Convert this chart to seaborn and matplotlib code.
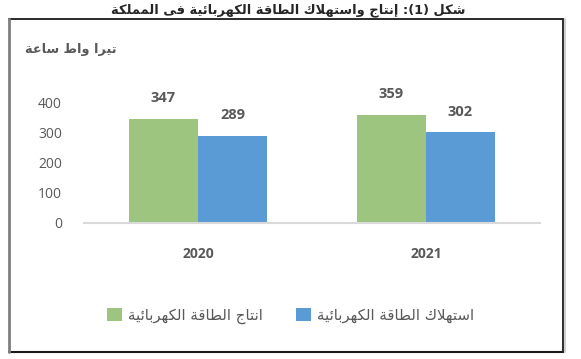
"""
Bar chart: electricity production vs consumption (TWh), 2020-2021.
"""

import matplotlib
matplotlib.use('Agg')
import matplotlib.pyplot as plt
from matplotlib.lines import Line2D
import pandas as pd
import seaborn as sns

# ========================
# DATA
# ========================

YEARS = ['2020', '2021']
PRODUCTION = [347, 359]
CONSUMPTION = [289, 302]
SERIES = ['انتاج الطاقة الكهربائية', 'استهلاك الطاقة الكهربائية']
Y_TICKS = [0, 100, 200, 300, 400]

TITLE = 'شكل (1): إنتاج واستهلاك الطاقة الكهربائية فى المملكة'
Y_TITLE = 'تيرا واط ساعة'

GREEN = '#9DC57F'
BLUE = '#5B9BD5'
GRAY_TXT = '#595959'


# ========================
# Minimal Arabic shaping (no arabic_reshaper in the sandbox)
# ========================

DUAL = {'ب': 0xFE8F, 'ت': 0xFE95, 'ث': 0xFE99, 'ج': 0xFE9D, 'س': 0xFEB1,
        'ش': 0xFEB5, 'ط': 0xFEC1, 'ع': 0xFEC9, 'ف': 0xFED1, 'ق': 0xFED5,
        'ك': 0xFED9, 'ل': 0xFEDD, 'م': 0xFEE1, 'ن': 0xFEE5, 'ه': 0xFEE9,
        'ي': 0xFEF1, 'ئ': 0xFE89}
RIGHT = {'ا': 0xFE8D, 'إ': 0xFE87, 'ة': 0xFE93, 'ر': 0xFEAD, 'و': 0xFEED,
         'ى': 0xFEEF, 'LA': 0xFEFB, 'LAI': 0xFEF9}
MIRROR = {'(': ')', ')': '('}


def shape(text):
    """Join Arabic letters into presentation forms and reverse to visual order."""
    tokens = []
    i = 0
    while i < len(text):
        if text[i] == 'ل' and i + 1 < len(text) and text[i + 1] in 'اإ':
            tokens.append('LA' if text[i + 1] == 'ا' else 'LAI')
            i += 2
        else:
            tokens.append(text[i])
            i += 1

    out = []
    for k, t in enumerate(tokens):
        prev = tokens[k - 1] if k > 0 else None
        nxt = tokens[k + 1] if k + 1 < len(tokens) else None
        joins_prev = prev in DUAL and (t in DUAL or t in RIGHT)
        if t in DUAL:
            joins_next = nxt in DUAL or nxt in RIGHT
            base = DUAL[t]
            if joins_prev and joins_next:
                out.append(chr(base + 3))
            elif joins_prev:
                out.append(chr(base + 1))
            elif joins_next:
                out.append(chr(base + 2))
            else:
                out.append(chr(base))
        elif t in RIGHT:
            out.append(chr(RIGHT[t] + (1 if joins_prev else 0)))
        else:
            out.append(t)
    return ''.join(MIRROR.get(c, c) for c in reversed(out))


AR_FONT = 'DejaVu Sans'


def main():
    sns.set_theme(style='white')
    plt.rcParams['font.family'] = ['Open Sans', 'DejaVu Sans']

    df = pd.DataFrame({
        'year': YEARS * 2,
        'value': PRODUCTION + CONSUMPTION,
        'series': [SERIES[0]] * len(YEARS) + [SERIES[1]] * len(YEARS),
    })

    W, H = 581, 359
    fig = plt.figure(figsize=(W / 100, H / 100), dpi=100)
    ax = fig.add_axes([84 / W, (H - 223) / H, (540 - 84) / W, 120 / H])

    sns.barplot(data=df, x='year', y='value', hue='series', hue_order=SERIES,
                palette=[GREEN, BLUE], width=0.605, saturation=1,
                edgecolor='none', ax=ax)

    ax.set_xlim(-0.5, 1.5)
    ax.set_ylim(0, 400)
    ax.set_yticks(Y_TICKS)
    ax.set_xlabel('')
    ax.set_ylabel('')
    sns.despine(ax=ax, left=True)
    ax.spines['bottom'].set_color('#D9D9D9')
    ax.spines['bottom'].set_linewidth(1.5)
    ax.tick_params(axis='y', length=0, pad=16, labelsize=10, labelcolor=GRAY_TXT)
    ax.tick_params(axis='x', length=0, pad=17, labelsize=10, labelcolor=GRAY_TXT)
    for lbl in ax.get_xticklabels():
        lbl.set_fontweight('bold')

    for cont in ax.containers:
        ax.bar_label(cont, padding=10, fontsize=10.5, fontweight='bold',
                     color=GRAY_TXT, clip_on=False)

    # legend (square handle on the left of each label)
    handles, labels = ax.get_legend_handles_labels()
    ax.legend(handles, [shape(l) for l in labels], loc='center',
              bbox_to_anchor=(290.5 / W, (H - 316) / H),
              bbox_transform=fig.transFigure, ncol=2, frameon=False,
              handlelength=1.0, handleheight=1.0, handletextpad=0.4,
              columnspacing=2.2, prop={'family': AR_FONT, 'size': 10.8})
    for txt in ax.get_legend().get_texts():
        txt.set_color(GRAY_TXT)

    # texts
    fig.text(288 / W, (H - 10) / H, shape(TITLE), ha='center', va='center',
             fontsize=9.4, fontweight='bold', color='#262626', family=AR_FONT)
    fig.text(25 / W, (H - 49) / H, shape(Y_TITLE), ha='left', va='center',
             fontsize=9.3, fontweight='bold', color=GRAY_TXT, family=AR_FONT)

    # frame around the chart
    x0, x1 = 8.5 / W, 563 / W
    y0, y1 = (H - 351.5) / H, (H - 19) / H
    fig.add_artist(Line2D([x0, x1], [y1, y1], color='#1A1A1A', lw=1.3))
    fig.add_artist(Line2D([x0, x1], [y0, y0], color='#1A1A1A', lw=1.5))
    fig.add_artist(Line2D([x1, x1], [y0, y1], color='#1A1A1A', lw=1.3))
    fig.add_artist(Line2D([x1 + 2 / W, x1 + 2 / W], [y0, y1], color='#D0D0D0', lw=1.5))
    fig.add_artist(Line2D([x0, x0], [y0, y1], color='#7F7F7F', lw=2))

    fig.savefig('out.png', dpi=100)
    plt.close(fig)


if __name__ == '__main__':
    main()
